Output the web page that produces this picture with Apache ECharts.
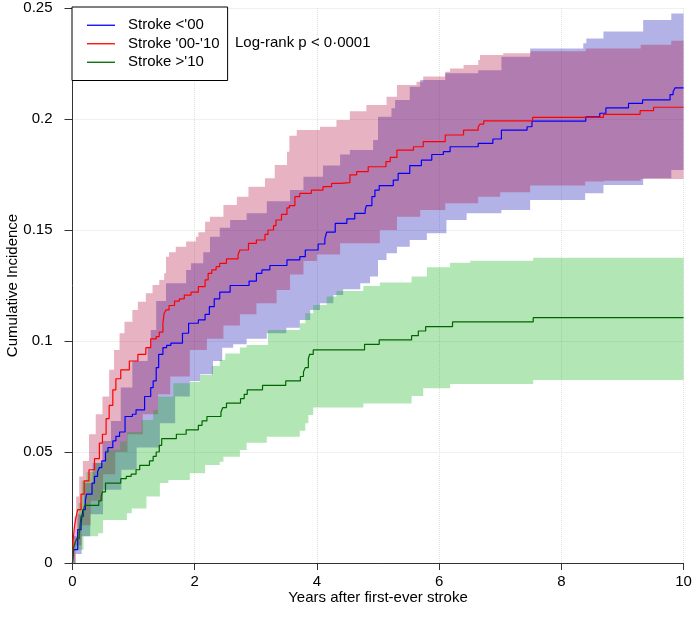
<!DOCTYPE html>
<html>
<head>
<meta charset="utf-8">
<script src="https://cdn.jsdelivr.net/npm/echarts@6/dist/echarts.min.js"></script>
<style>html,body{margin:0;padding:0;background:#fff}#c{width:694px;height:636px}</style>
</head>
<body>
<div id="c"></div>
<script>
var seriesNames = ["Stroke <'00", "Stroke '00-'10", "Stroke >'10"];
var xTicks = [0, 2, 4, 6, 8, 10];
var yTicks = [0, 0.05, 0.1, 0.15, 0.2, 0.25];

var blueLine = [[0,0],[0.02,0.006],[0.085,0.015],[0.14,0.018],[0.17,0.024],[0.21,0.028],[0.23,0.031],[0.32,0.036],[0.36,0.039],[0.41,0.041],[0.44,0.043],[0.48,0.046],[0.54,0.050],[0.58,0.052],[0.66,0.055],[0.71,0.057],[0.77,0.059],[0.86,0.066],[0.98,0.067],[1.04,0.069],[1.18,0.075],[1.28,0.079],[1.32,0.082],[1.37,0.088],[1.41,0.094],[1.48,0.097],[1.54,0.098],[1.61,0.099],[1.80,0.1035],[1.90,0.108],[2.06,0.1095],[2.17,0.112],[2.24,0.1155],[2.32,0.119],[2.41,0.122],[2.58,0.125],[2.89,0.127],[3.01,0.1305],[3.10,0.132],[3.23,0.134],[3.51,0.1365],[3.72,0.138],[3.81,0.141],[4.02,0.1437],[4.13,0.146],[4.16,0.149],[4.30,0.153],[4.49,0.155],[4.62,0.1575],[4.79,0.159],[4.81,0.161],[4.90,0.165],[4.95,0.168],[5.02,0.170],[5.25,0.1725],[5.33,0.1755],[5.52,0.179],[5.71,0.1815],[5.88,0.184],[6.07,0.1853],[6.18,0.1875],[6.64,0.189],[6.88,0.191],[7.02,0.195],[7.44,0.1965],[7.52,0.199],[8.40,0.201],[8.63,0.2026],[8.73,0.205],[9.10,0.207],[9.33,0.2086],[9.78,0.211],[9.83,0.2123],[9.86,0.214],[10,0.214]];
var redLine = [[0,0],[0.01,0.010],[0.03,0.016],[0.06,0.021],[0.085,0.024],[0.14,0.031],[0.19,0.037],[0.27,0.042],[0.36,0.047],[0.44,0.054],[0.49,0.058],[0.55,0.065],[0.60,0.071],[0.66,0.078],[0.71,0.083],[0.79,0.087],[0.93,0.091],[1.07,0.094],[1.20,0.097],[1.28,0.101],[1.37,0.102],[1.42,0.104],[1.48,0.108],[1.50,0.1125],[1.53,0.114],[1.58,0.116],[1.67,0.118],[1.75,0.119],[1.83,0.1207],[1.94,0.122],[2.06,0.1245],[2.17,0.1275],[2.22,0.1305],[2.28,0.132],[2.35,0.1335],[2.41,0.135],[2.52,0.137],[2.71,0.139],[2.74,0.141],[2.88,0.144],[3.01,0.1455],[3.15,0.148],[3.20,0.150],[3.29,0.152],[3.33,0.1545],[3.42,0.157],[3.51,0.160],[3.55,0.161],[3.64,0.165],[3.72,0.1665],[3.91,0.168],[4.10,0.1695],[4.24,0.171],[4.38,0.1713],[4.54,0.1748],[4.65,0.1763],[4.84,0.1785],[5.13,0.1808],[5.20,0.1827],[5.31,0.186],[5.58,0.1875],[5.74,0.1898],[6.10,0.1928],[6.40,0.195],[6.64,0.1965],[6.67,0.1977],[6.73,0.1992],[7.53,0.2007],[8.69,0.2021],[9.29,0.2038],[9.51,0.2053],[10,0.2053]];
var greenLine = [[0,0],[0.01,0.006],[0.04,0.009],[0.07,0.011],[0.11,0.013],[0.14,0.021],[0.18,0.024],[0.20,0.026],[0.43,0.028],[0.47,0.030],[0.49,0.032],[0.54,0.036],[0.79,0.038],[0.88,0.039],[0.96,0.040],[1.04,0.042],[1.10,0.044],[1.26,0.046],[1.32,0.048],[1.37,0.050],[1.42,0.053],[1.46,0.056],[1.70,0.058],[1.86,0.060],[2.06,0.062],[2.12,0.064],[2.20,0.066],[2.43,0.068],[2.46,0.070],[2.52,0.072],[2.75,0.074],[2.81,0.076],[2.86,0.078],[3.11,0.080],[3.49,0.082],[3.73,0.084],[3.78,0.086],[3.81,0.088],[3.86,0.092],[3.88,0.094],[3.94,0.096],[4.78,0.0985],[5.02,0.1005],[5.55,0.1024],[5.66,0.1045],[5.78,0.1065],[6.22,0.1086],[7.54,0.1105],[10,0.1105]];

var blueUpper = [[0,0],[0.02,0.012],[0.08,0.022],[0.19,0.036],[0.33,0.045],[0.49,0.055],[0.63,0.064],[0.79,0.079],[0.98,0.091],[1.23,0.097],[1.28,0.105],[1.37,0.118],[1.53,0.126],[1.86,0.132],[1.94,0.135],[2.14,0.140],[2.25,0.147],[2.41,0.151],[2.58,0.1545],[2.85,0.1575],[3.18,0.163],[3.56,0.168],[3.78,0.174],[4.10,0.179],[4.38,0.184],[4.54,0.186],[4.92,0.1905],[5.0,0.201],[5.22,0.2048],[5.28,0.2086],[5.52,0.2145],[5.69,0.2176],[6.10,0.2206],[6.64,0.222],[7.02,0.228],[7.49,0.2318],[8.36,0.2341],[8.41,0.2363],[8.69,0.2394],[9.34,0.2446],[9.8,0.2475],[10,0.248]];
var blueLower = [[0,0],[0.05,0.004],[0.15,0.012],[0.29,0.022],[0.5,0.033],[0.8,0.042],[1.05,0.052],[1.43,0.063],[1.68,0.075],[1.92,0.082],[2.09,0.085],[2.3,0.091],[2.45,0.097],[2.63,0.0985],[2.85,0.101],[3.18,0.1035],[3.5,0.106],[3.72,0.1095],[3.89,0.114],[4.05,0.117],[4.27,0.1207],[4.43,0.1233],[4.71,0.126],[4.87,0.129],[5.0,0.1365],[5.14,0.1395],[5.31,0.1425],[5.52,0.1455],[5.80,0.1485],[6.12,0.1545],[6.45,0.1575],[7.02,0.159],[7.49,0.1635],[8.39,0.1665],[8.69,0.1703],[9.34,0.1733],[9.8,0.177],[10,0.179]];
var redUpper = [[0,0],[0.01,0.012],[0.03,0.021],[0.06,0.030],[0.11,0.039],[0.17,0.046],[0.27,0.058],[0.38,0.067],[0.49,0.075],[0.60,0.087],[0.68,0.096],[0.77,0.1035],[0.85,0.1087],[0.98,0.114],[1.07,0.1177],[1.20,0.1215],[1.31,0.1252],[1.42,0.1275],[1.50,0.1305],[1.53,0.138],[1.58,0.140],[1.69,0.1425],[1.86,0.1448],[2.02,0.147],[2.06,0.149],[2.17,0.1537],[2.25,0.156],[2.47,0.1613],[2.69,0.165],[2.88,0.1695],[3.15,0.1733],[3.31,0.1793],[3.51,0.1853],[3.55,0.1925],[3.67,0.195],[4.05,0.1965],[4.32,0.1995],[4.54,0.2035],[4.81,0.2063],[5.14,0.210],[5.31,0.2153],[5.63,0.2168],[5.74,0.2191],[6.10,0.2213],[6.18,0.2228],[6.40,0.2243],[6.64,0.2266],[6.67,0.2288],[7.05,0.2296],[7.5,0.2305],[8.4,0.2318],[9.3,0.2335],[9.8,0.2353],[10,0.2353]];
var redLower = [[0,0],[0.05,0.008],[0.15,0.017],[0.3,0.028],[0.5,0.040],[0.7,0.050],[0.9,0.058],[1.15,0.067],[1.4,0.076],[1.6,0.084],[1.92,0.096],[2.2,0.101],[2.47,0.107],[2.74,0.112],[3.01,0.117],[3.34,0.123],[3.56,0.130],[3.78,0.136],[4.0,0.139],[4.38,0.144],[5.03,0.150],[5.31,0.156],[5.69,0.159],[6.10,0.162],[6.64,0.165],[7.0,0.167],[7.49,0.170],[8.39,0.1718],[8.7,0.1722],[9.3,0.173],[10,0.174]];
var greenUpper = [[0,0],[0.04,0.009],[0.10,0.027],[0.15,0.037],[0.23,0.041],[0.37,0.045],[0.53,0.051],[0.78,0.0547],[0.89,0.059],[1.13,0.0644],[1.32,0.0689],[1.40,0.0749],[1.65,0.081],[1.92,0.0817],[2.09,0.0847],[2.28,0.0887],[2.41,0.0914],[2.50,0.0944],[2.74,0.0971],[2.85,0.0982],[3.20,0.105],[3.72,0.108],[3.81,0.1125],[3.94,0.1162],[4.16,0.120],[4.32,0.1225],[4.76,0.1248],[5.03,0.1263],[5.55,0.129],[5.80,0.1332],[6.18,0.1353],[6.51,0.1362],[7.54,0.1375],[10,0.1375]];
var greenLower = [[0,0],[0.04,0.006],[0.18,0.012],[0.42,0.0134],[0.50,0.0194],[0.89,0.0224],[0.97,0.0246],[1.21,0.030],[1.43,0.036],[1.57,0.0374],[1.92,0.0404],[2.17,0.0441],[2.41,0.0456],[2.47,0.0479],[2.74,0.0509],[2.85,0.0542],[3.18,0.0569],[3.72,0.0596],[3.81,0.0629],[3.86,0.0667],[3.94,0.070],[4.76,0.0719],[5.55,0.0752],[5.74,0.0787],[6.18,0.0806],[7.54,0.0824],[10,0.0829]];

var FONT = 'Liberation Sans, Arial, sans-serif';

function stepPts(arr) {
  var out = [];
  for (var i = 0; i < arr.length; i++) {
    if (i > 0) out.push([arr[i][0], arr[i - 1][1]]);
    out.push([arr[i][0], arr[i][1]]);
  }
  return out;
}
function bandSeries(name, up, lo, color, z) {
  var poly = stepPts(up).concat(stepPts(lo).reverse());
  return {
    name: name, type: 'custom', coordinateSystem: 'cartesian2d', silent: true, z: z, clip: true,
    data: [[0, 0]],
    renderItem: function (params, api) {
      return { type: 'polygon', shape: { points: poly.map(function (p) { return api.coord(p); }) }, style: { fill: color } };
    }
  };
}
function lineSeries(name, data, color, z) {
  return {
    name: name, type: 'line', step: 'end', data: data, symbol: 'none', showSymbol: false, z: z,
    lineStyle: { color: color, width: 1.2 }, itemStyle: { color: color }, animation: false
  };
}

var chart = echarts.init(document.getElementById('c'), null, { renderer: 'canvas' });
chart.setOption({
  animation: false,
  backgroundColor: '#fff',
  grid: { left: 72.5, right: 10.5, top: 8, bottom: 73, containLabel: false, outerBoundsMode: 'none' },
  xAxis: {
    type: 'value', min: xTicks[0], max: xTicks[xTicks.length - 1], interval: 2,
    name: 'Years after first-ever stroke', nameLocation: 'middle', nameGap: 27, nameMoveOverlap: false,
    nameTextStyle: { fontFamily: FONT, fontSize: 15, color: '#000' },
    axisLine: { show: true, onZero: false, lineStyle: { color: '#333', width: 1 } },
    axisTick: { show: true, length: 7, lineStyle: { color: '#333' } },
    axisLabel: { margin: 11, fontFamily: FONT, fontSize: 15, color: '#000' },
    splitLine: { show: true, lineStyle: { type: 'dotted', color: '#e0e0e0', width: 1 } }
  },
  yAxis: {
    type: 'value', min: yTicks[0], max: yTicks[yTicks.length - 1], interval: 0.05,
    name: 'Cumulative Incidence', nameLocation: 'middle', nameGap: 52, nameRotate: 90, nameMoveOverlap: false,
    nameTextStyle: { fontFamily: FONT, fontSize: 15, color: '#000' },
    axisLine: { show: true, onZero: false, lineStyle: { color: '#333', width: 1 } },
    axisTick: { show: true, length: 8, lineStyle: { color: '#333' } },
    axisLabel: { margin: 20, fontFamily: FONT, fontSize: 15, color: '#000' },
    splitLine: { show: true, lineStyle: { type: 'dotted', color: '#e0e0e0', width: 1 } }
  },
  legend: {
    data: seriesNames.map(function (n) { return { name: n, icon: 'rect' }; }),
    orient: 'vertical', left: 72, top: 7,
    padding: [9, 8, 9, 15], itemGap: 0, itemWidth: 28, itemHeight: 1.3,
    backgroundColor: '#fff', borderColor: '#000', borderWidth: 1, borderRadius: 0,
    textStyle: { fontFamily: FONT, fontSize: 15, color: '#000', lineHeight: 18.5, padding: [0, 0, 0, 8] }
  },
  graphic: [{
    type: 'text', left: 235, top: 35, z: 10,
    style: { text: 'Log-rank p < 0·0001', font: '15px ' + FONT, fill: '#000' }
  }],
  series: [
    bandSeries('bandBlue', blueUpper, blueLower, 'rgba(0,0,175,0.3)', 1),
    bandSeries('bandRed', redUpper, redLower, 'rgba(175,0,50,0.3)', 2),
    bandSeries('bandGreen', greenUpper, greenLower, 'rgba(0,175,10,0.3)', 3),
    lineSeries(seriesNames[0], blueLine, '#0000ff', 5),
    lineSeries(seriesNames[1], redLine, '#ff0000', 5),
    lineSeries(seriesNames[2], greenLine, '#006400', 5)
  ]
});
</script>
</body>
</html>
